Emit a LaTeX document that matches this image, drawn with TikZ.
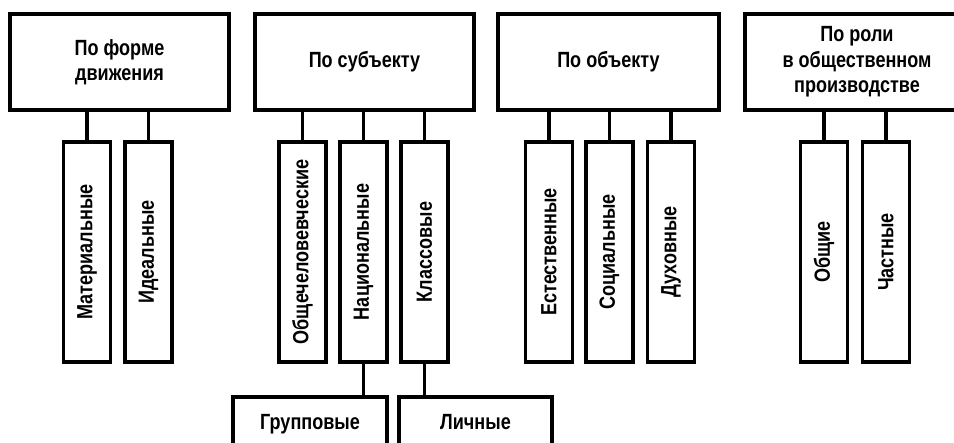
\documentclass[tikz,border=0pt]{standalone}
\usepackage{graphicx}
\usepackage{fontspec}
\setmainfont{Liberation Sans}[FakeStretch=0.82]
\begin{document}
\begin{tikzpicture}[x=1pt,y=-1pt,
        box/.style={draw,line width=3.2pt,inner sep=0pt,align=center,font=\fontsize{22}{25.5}\selectfont\bfseries},
        topbox/.style={box,minimum height=96pt},
        leafbox/.style={box,minimum width=47pt,minimum height=220pt},
        subbox/.style={box,minimum height=54pt},
        link/.style={line width=3.2pt}]
        \useasboundingbox (0,0) rectangle (954,443);
        \clip (0,0) rectangle (954,443);
        % top row
        \node[topbox,minimum width=219pt] (form) at (119.5,62) {По форме\\движения};
        \node[topbox,minimum width=219pt] (subj) at (364.5,62) {По субъекту};
        \node[topbox,minimum width=221pt] (obj) at (608.5,62) {По объекту};
        \node[topbox,minimum width=224pt] (role) at (857,62) {По роли\\в общественном\\производстве};
        % leaves
        \node[leafbox] (mat) at (87,252) {\rotatebox{90}{Материальные}};
        \node[leafbox] (ideal) at (148.5,252) {\rotatebox{90}{Идеальные}};
        \node[leafbox] (human) at (302.5,252) {\rotatebox{90}{Общечеловевческие}};
        \node[leafbox] (nat) at (363.5,252) {\rotatebox{90}{Национальные}};
        \node[leafbox] (klass) at (424.5,252) {\rotatebox{90}{Классовые}};
        \node[leafbox] (est) at (549,252) {\rotatebox{90}{Естественные}};
        \node[leafbox] (soc) at (609.5,252) {\rotatebox{90}{Социальные}};
        \node[leafbox] (duh) at (671,252) {\rotatebox{90}{Духовные}};
        \node[leafbox] (gen) at (824,252) {\rotatebox{90}{Общие}};
        \node[leafbox] (part) at (886,252) {\rotatebox{90}{Частные}};
        % bottom row
        \node[subbox,minimum width=154pt] (group) at (310,424) {\strut Групповые};
        \node[subbox,minimum width=153pt] (pers) at (475.5,424) {\strut Личные};
        % links
        \draw[link] (form.south -| mat) -- (mat.north);
        \draw[link] (form.south -| ideal) -- (ideal.north);
        \draw[link] (subj.south -| human) -- (human.north);
        \draw[link] (subj.south -| nat) -- (nat.north);
        \draw[link] (subj.south -| klass) -- (klass.north);
        \draw[link] (obj.south -| est) -- (est.north);
        \draw[link] (obj.south -| soc) -- (soc.north);
        \draw[link] (obj.south -| duh) -- (duh.north);
        \draw[link] (role.south -| gen) -- (gen.north);
        \draw[link] (role.south -| part) -- (part.north);
        \draw[link] (nat.south) -- (nat.south |- group.north);
        \draw[link] (klass.south) -- (klass.south |- pers.north);
\end{tikzpicture}
\end{document}
